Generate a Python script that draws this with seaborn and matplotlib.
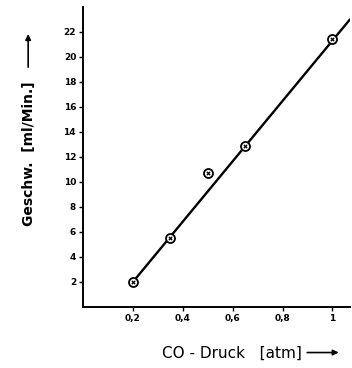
import numpy as np
import pandas as pd
import matplotlib
matplotlib.use("Agg")
import matplotlib.pyplot as plt
import seaborn as sns

# Messpunkte
druck = [0.2, 0.35, 0.5, 0.65, 1.0]
geschw = [2.0, 5.5, 10.7, 12.9, 21.4]

fit_x = [0.2, 1.07]
fit_y = [2.0, 23.0]

x_ticks = [0.2, 0.4, 0.6, 0.8, 1.0]
x_labels = ["0,2", "0,4", "0,6", "0,8", "1"]
y_ticks = [2, 4, 6, 8, 10, 12, 14, 16, 18, 20, 22]

sns.set_style("white", {"text.color": "black", "xtick.color": "black",
                        "ytick.color": "black", "axes.labelcolor": "black"})
plt.rcParams['font.family'] = ['DejaVu Sans']

fig = plt.figure(figsize=(3.52, 3.68), dpi=100)
ax = fig.add_axes([0.236, 0.166, 0.758, 0.815])

df = pd.DataFrame({"x": druck, "y": geschw})
fit = pd.DataFrame({"x": fit_x, "y": fit_y})

sns.lineplot(data=fit, x="x", y="y", color="black", linewidth=1.7, ax=ax)
sns.scatterplot(data=df, x="x", y="y", marker="o", s=42, facecolor="white",
                edgecolor="black", linewidth=1.3, ax=ax, zorder=3)
sns.scatterplot(data=df, x="x", y="y", marker="x", s=6, color="black",
                linewidth=0.9, ax=ax, zorder=4)

ax.set_xlim(0, 1.07)
ax.set_ylim(0, 24)
ax.set_xticks(x_ticks)
ax.set_xticklabels(x_labels, fontsize=6.5, fontweight="bold")
ax.set_yticks(y_ticks)
ax.set_yticklabels([str(t) for t in y_ticks], fontsize=6.5, fontweight="bold")
ax.tick_params(axis="both", direction="out", length=3, width=1, color="black", pad=2,
               bottom=True, left=True)
ax.set_xlabel("")
ax.set_ylabel("")
for side in ["top", "right"]:
    ax.spines[side].set_visible(False)
for side in ["left", "bottom"]:
    ax.spines[side].set_linewidth(1.4)
    ax.spines[side].set_color("black")

# Achsenbeschriftungen mit Pfeilen
fig.text(0.082, 0.385, "Geschw.  [ml/Min.]", rotation=90, fontsize=10,
         fontweight="bold", ha="center", va="bottom", color="black")
fig.patches.append(matplotlib.patches.FancyArrowPatch(
    (0.08, 0.81), (0.08, 0.915), transform=fig.transFigure,
    arrowstyle="-|>", mutation_scale=8, color="black", linewidth=1.2))

fig.text(0.46, 0.04, "CO - Druck   [atm]", fontsize=11, ha="left", va="center",
         color="black")
fig.patches.append(matplotlib.patches.FancyArrowPatch(
    (0.865, 0.042), (0.97, 0.042), transform=fig.transFigure,
    arrowstyle="-|>", mutation_scale=8, color="black", linewidth=1.2))

fig.savefig("out.png", dpi=100)
